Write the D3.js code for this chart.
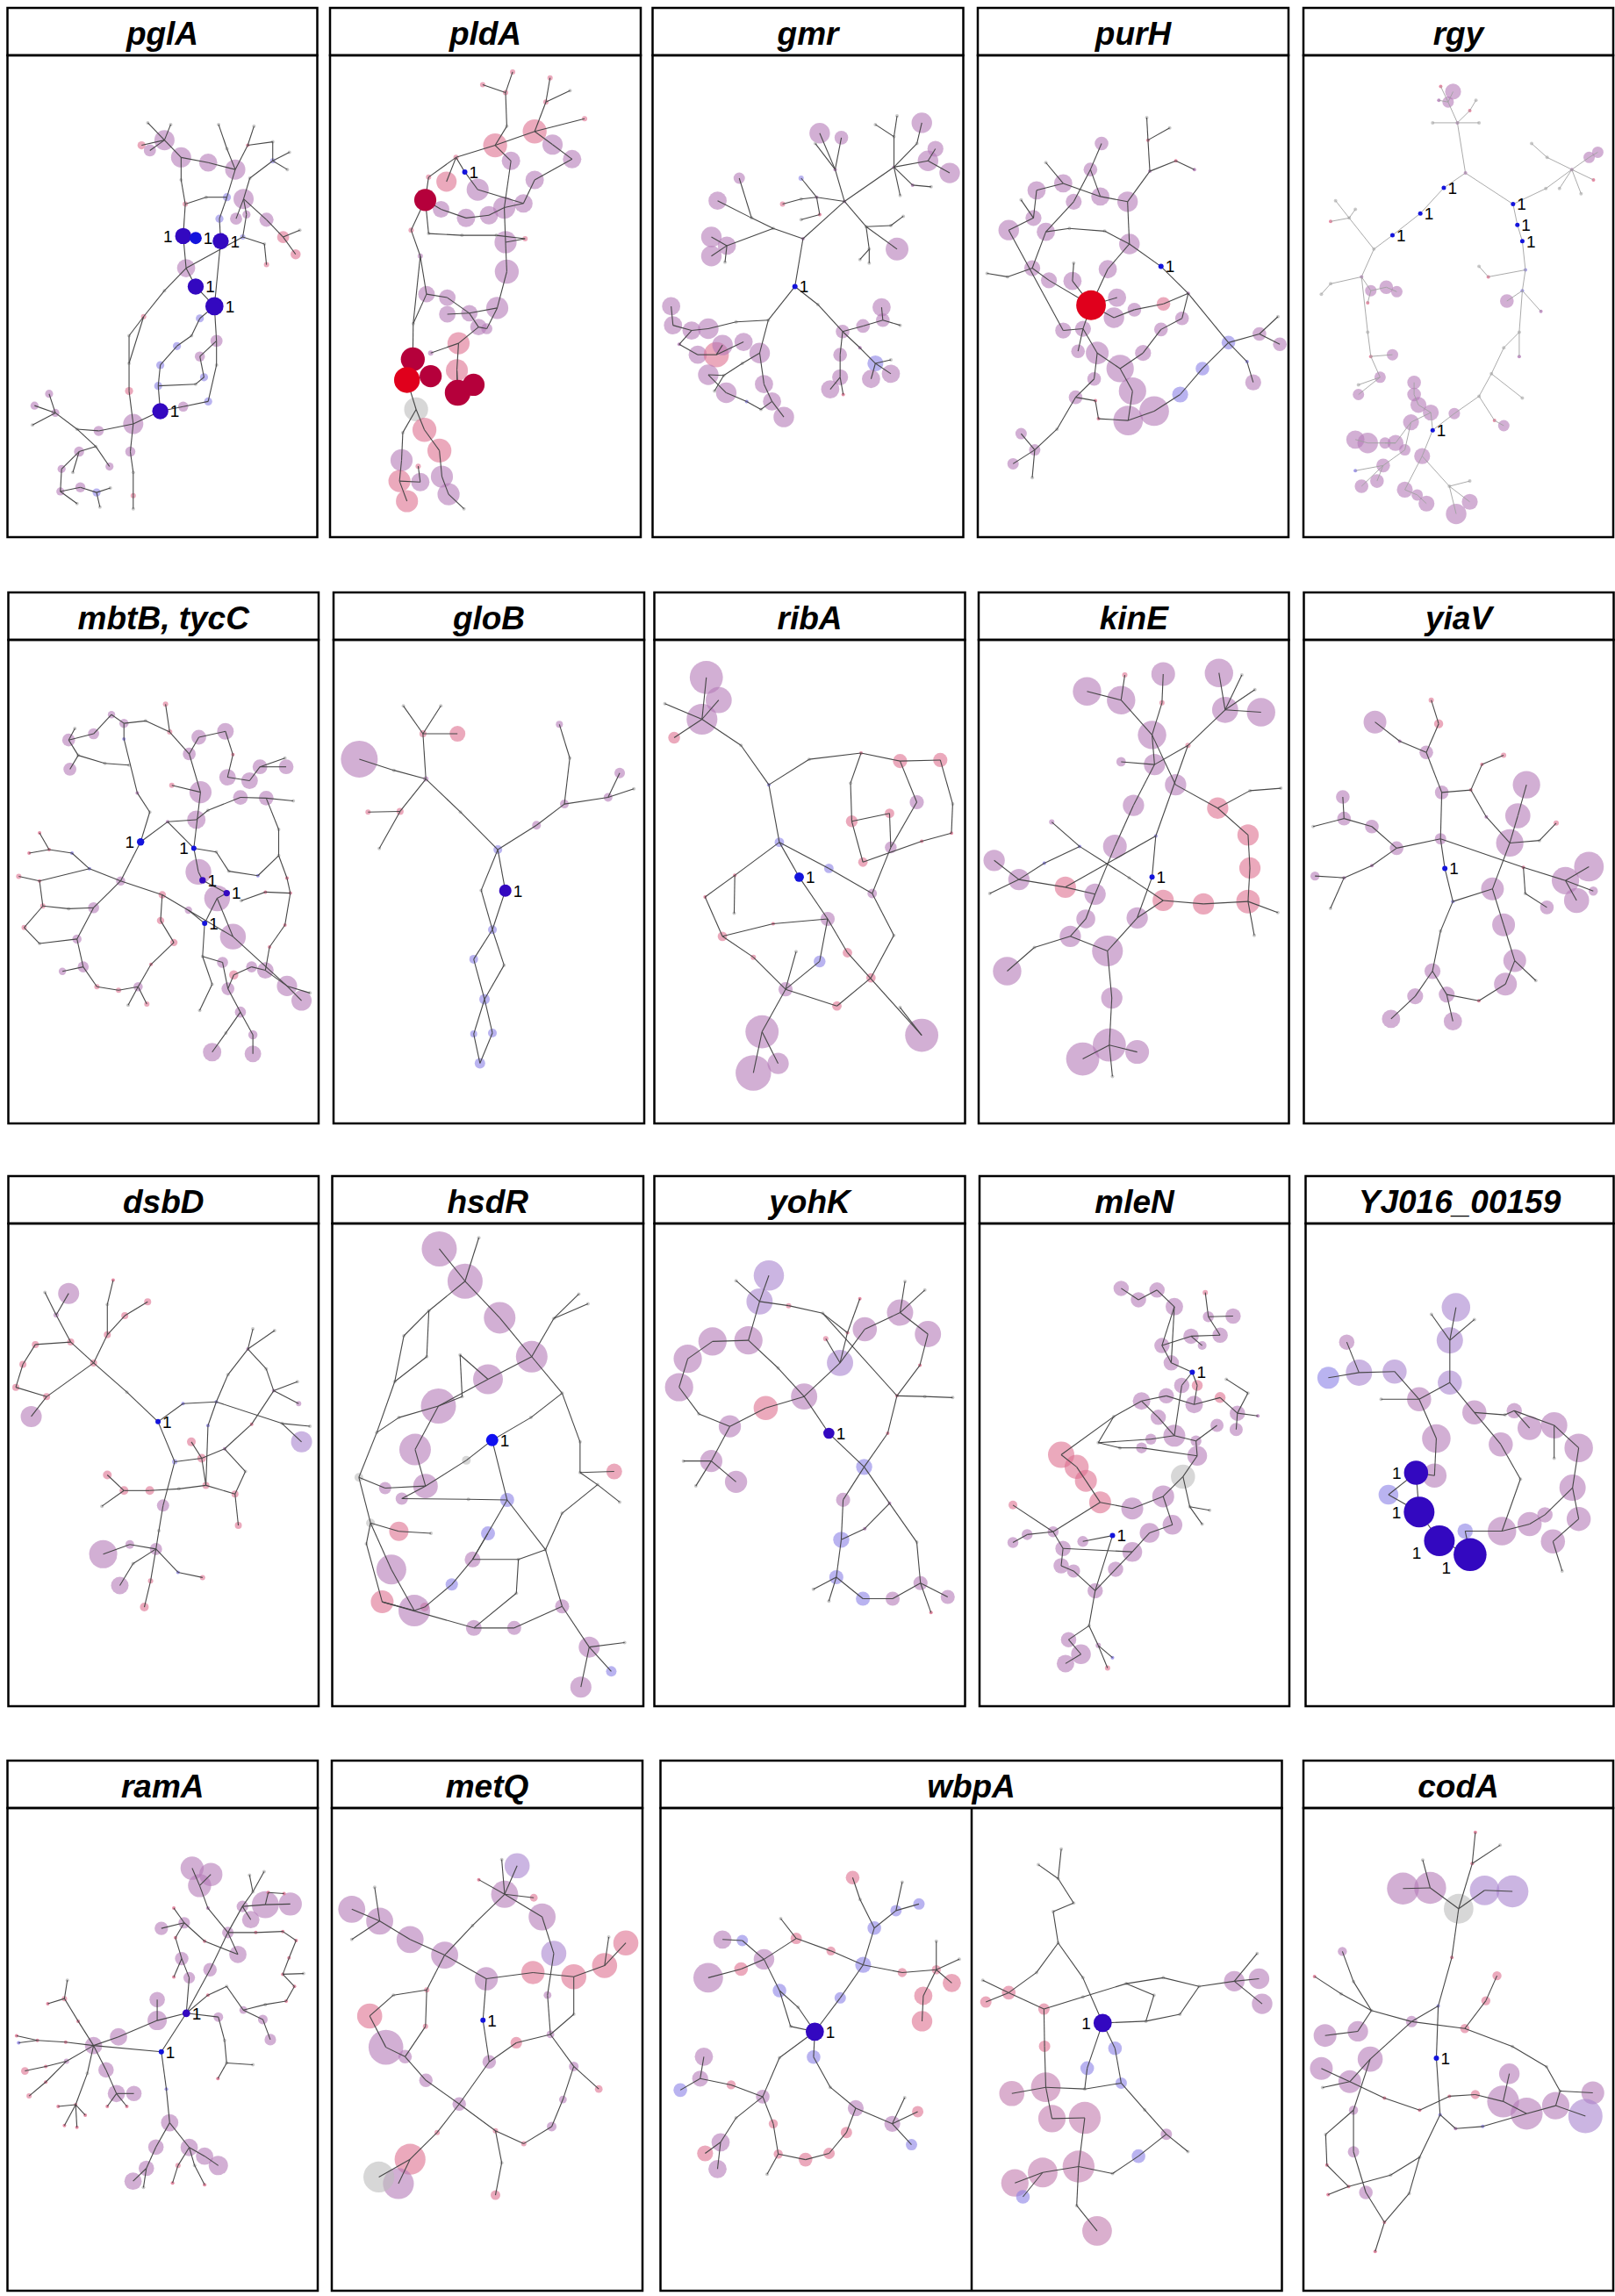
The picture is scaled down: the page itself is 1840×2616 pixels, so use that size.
<!DOCTYPE html>
<html>
<head>
<meta charset="utf-8">
<script src="https://cdn.jsdelivr.net/npm/d3@7"></script>
<style>
  html, body { margin: 0; padding: 0; background: #fff; }
</style>
</head>
<body>
<div id="chart"></div>
<script>
// Node tuples: [x, y, radius(px), colour code, parent index, label side]
// x/y in per-panel coordinates (see dom in panel list)

const pglA_nodes = [
[395,405,10,'p',-1],[355,355,2,'g',0],[410,360,2,'g',0],[340,420,4,'k',0],[360,435,6,'p',0],
[435,455,10,'p',0],[500,470,9,'p',5],[565,490,10,'p',6],[525,360,2,'g',9],[545,430,2,'g',7],
[610,365,2,'g',11],[595,420,2,'k',7],[655,410,2,'g',11],[655,465,3,'b',12],[695,440,2,'g',13],
[690,490,2,'g',13],[600,515,2,'g',13],[585,575,10,'p',16],[545,570,4,'b',7],[495,570,2,'g',18],
[445,590,3,'k',19],[435,520,2,'g',5],[527,632,4,'b',18],[567,632,6,'p',17],[592,620,4,'p',17],
[640,635,7,'p',17],[680,685,6,'k',25],[720,665,2,'g',26],[710,735,5,'k',26],[635,705,2,'g',30],
[583,685,3,'b',24],[640,765,3,'k',29],[440,682,8,'D',20,'l'],[470,688,6,'N',32,'r'],[530,697,8,'D',22,'r'],
[447,775,9,'p',32],[470,828,8,'D',35,'r'],[515,885,9,'D',36,'r'],[395,840,2,'g',35],[345,915,3,'k',38],
[480,920,4,'b',37],[460,970,2,'g',40],[425,1000,4,'b',41],[520,985,6,'p',37],[310,970,2,'g',39],
[310,1050,2,'g',44],[310,1130,4,'k',45],[320,1225,10,'p',46],[385,1055,4,'b',42],[480,1030,5,'p',43],
[520,1055,2,'g',43],[490,1090,4,'b',49],[470,1110,2,'g',51],[500,1160,4,'b',50],[440,1175,5,'p',53],
[380,1115,4,'b',48],[385,1188,8,'D',55,'r'],[237,1245,5,'p',47],[185,1240,2,'g',57],[133,1193,4,'p',58],
[118,1138,4,'p',59],[83,1172,4,'p',59],[78,1228,2,'g',59],[230,1290,2,'g',58],[190,1305,5,'p',63],
[148,1355,4,'p',64],[145,1420,4,'p',65],[193,1408,5,'p',66],[175,1365,2,'g',64],[232,1423,4,'b',67],
[263,1348,4,'p',63],[313,1305,5,'p',47],[320,1365,2,'g',71],[320,1432,3,'k',72],[320,1470,2,'g',73],
[265,1410,2,'g',69],[240,1465,2,'g',69],[185,1455,2,'g',66]
];
const pglA_extra = [[20,21],[30,35],[34,37],[56,54],[56,47],[39,45],[52,55]];

const pldA_nodes = [
[1232,208,3,'k',2],[1160,245,3,'k',2],[1215,268,3,'k',5],[1322,225,3,'k',4],[1312,295,3,'k',7],
[1218,365,2,'g',6],[1190,420,13,'k',-1],[1285,380,13,'k',6],[1370,262,2,'g',4],[1405,343,3,'k',7],
[1328,418,11,'p',7],[1375,460,10,'p',10],[1228,465,10,'p',6],[1285,520,10,'p',11],[1096,455,3,'k',6],
[1117,497,3,'N',14,'r'],[1148,548,12,'p',15],[1073,525,11,'k',14],[1030,512,3,'k',14],[1022,578,12,'C',18],
[1060,605,9,'p',19],[1120,630,10,'p',20],[1175,622,10,'p',21],[1212,600,12,'p',22],[1258,588,10,'p',23],
[1215,700,12,'p',23],[1218,785,13,'p',25],[1195,890,12,'p',26],[1128,905,9,'p',27],[1075,860,9,'p',30],
[1025,850,9,'p',35],[1075,908,9,'p',28],[1150,945,9,'p',28],[1170,950,6,'p',32],[988,665,3,'k',19],
[1010,740,3,'p',34],[1030,675,2,'g',19],[1110,680,2,'g',36],[1193,680,2,'g',37],[1262,690,3,'k',38],
[993,935,2,'g',30],[1102,992,12,'k',32],[1035,1020,3,'p',41],[992,1038,13,'C',40],[1098,1070,12,'k',41],
[978,1098,14,'R',43],[1035,1087,12,'C',45],[1100,1135,14,'C',44],[1138,1112,12,'C',47],[1000,1183,13,'g',45],
[1020,1242,13,'k',49],[1056,1302,13,'k',50],[968,1250,2,'g',49],[965,1330,12,'p',52],[960,1390,12,'k',53],
[1010,1393,10,'p',54],[1062,1377,12,'p',51],[1078,1428,12,'p',56],[978,1448,12,'k',54],[1115,1470,2,'g',57],
[1005,1347,3,'k',55]
];
const pldA_extra = [[13,24],[12,23],[16,24],[27,33],[35,40],[44,47],[25,39],[29,28]];

const gmr_nodes = [
[235,828,3,'N',-1,'r'],[248,690,2,'p',0],[315,582,2,'p',1],[395,483,2,'p',2],[440,355,9,'p',5],
[432,415,2,'g',3],[395,395,2,'g',3],[400,335,2,'g',6],[365,360,2,'g',6],[450,465,9,'p',3],
[462,430,7,'p',9],[485,500,9,'p',9],[425,535,2,'p',3],[455,540,2,'g',12],[405,565,2,'g',3],
[350,655,2,'g',2],[400,720,10,'p',15],[390,652,2,'g',15],[410,625,2,'g',17],[355,720,2,'g',15],
[340,750,2,'g',19],[355,760,2,'g',19],[270,570,2,'p',2],[245,575,2,'g',22],[215,590,3,'k',23],
[275,620,2,'k',22],[245,635,2,'g',25],[300,490,2,'p',2],[275,385,9,'p',27],[310,398,6,'p',27],
[268,415,2,'g',27],[245,515,3,'b',22],[200,660,2,'g',1],[165,630,2,'g',32],[145,515,5,'p',33],
[110,580,8,'p',33],[125,710,8,'p',32],[100,685,9,'p',36],[100,740,9,'p',36],[122,758,2,'g',36],
[192,925,2,'g',0],[140,930,2,'g',40],[95,950,9,'p',41],[68,955,8,'p',42],[38,940,8,'p',43],
[35,885,8,'p',44],[48,995,2,'p',43],[78,1025,8,'p',46],[108,1025,11,'k',47],[118,997,9,'p',48],
[152,988,8,'p',48],[178,1020,9,'p',40],[150,1050,2,'g',51],[120,1085,2,'g',52],[95,1083,9,'p',53],
[185,1110,8,'p',51],[124,1135,9,'p',54],[157,1160,2,'b',56],[198,1160,8,'p',55],[180,1183,2,'g',57],
[217,1205,9,'p',58],[105,1130,2,'g',53],[272,880,2,'g',0],[312,958,6,'p',62],[345,942,6,'p',63],
[375,888,8,'p',66],[377,925,6,'p',64],[405,940,2,'g',66],[308,1025,6,'p',63],[308,1090,7,'p',68],
[292,1125,8,'p',69],[313,1140,2,'k',69],[340,1005,2,'p',63],[365,1050,7,'b',72],[390,1080,8,'p',73],
[358,1095,8,'p',73],[390,1040,2,'g',73]
];
const gmr_extra = [[59,58]];

const purH_nodes = [
[826,770,3,'N',-1,'r'],[775,705,9,'p',0],[772,583,9,'p',1],[808,495,2,'p',2],[805,405,2,'k',3],
[803,340,2,'g',4],[840,370,2,'g',4],[850,465,2,'k',3],[880,490,2,'p',7],[728,568,8,'p',2],
[730,415,6,'p',11],[712,490,6,'p',9],[668,530,8,'p',9],[625,550,8,'p',12],[640,470,2,'g',12],
[685,583,7,'p',11],[640,670,8,'p',15],[620,630,7,'p',13],[580,665,9,'p',17],[600,578,2,'g',17],
[678,660,2,'g',16],[735,668,2,'g',20],[740,778,8,'p',1],[713,882,13,'R',22],[683,812,8,'p',23],
[685,760,2,'g',24],[645,810,7,'p',27],[618,775,7,'p',16],[578,800,2,'g',27],[545,790,2,'g',28],
[755,860,8,'p',23],[750,918,9,'p',23],[783,895,6,'p',31],[830,878,6,'k',34],[870,848,2,'p',0],
[860,920,6,'p',34],[826,952,6,'p',35],[700,950,7,'p',23],[668,955,7,'p',37],[692,1015,6,'p',37],
[723,1020,10,'p',37],[760,1065,12,'p',40],[797,1020,7,'p',36],[935,990,6,'b',34],[985,965,6,'p',43],
[1018,995,6,'p',44],[1015,915,2,'g',44],[965,1045,2,'b',43],[975,1105,7,'p',47],[893,1065,6,'b',43],
[857,1140,7,'b',49],[815,1188,13,'p',50],[780,1130,12,'p',41],[773,1215,13,'p',51],[718,1095,6,'p',40],
[688,1148,6,'p',54],[720,1158,2,'k',55],[725,1210,2,'k',53],[658,1240,2,'g',55],[622,1300,5,'p',58],
[600,1253,5,'p',59],[587,1340,5,'p',59],[618,1380,2,'g',59]
];
const purH_extra = [[26,23],[33,32],[42,41],[52,53],[56,57],[21,1],[38,18]];

const rgy_nodes = [
[1318,500,2,'p',-1],[1305,355,2,'p',0],[1290,295,5,'p',1],[1298,265,7,'p',2],[1278,250,2,'k',2],
[1275,290,2,'p',2],[1265,355,2,'g',1],[1340,355,2,'g',1],[1325,320,2,'k',1],[1335,290,2,'g',8],
[1283,543,2.5,'N',0,'r'],[1245,617,2.5,'N',10,'r'],[1200,680,2.5,'N',11,'r'],[1170,720,2,'g',12],[1395,590,2.5,'N',0,'r'],
[1402,650,2.5,'N',14,'r'],[1410,697,2.5,'N',15,'r'],[1448,545,2,'g',14],[1490,490,2,'p',17],[1518,455,5,'p',18],
[1532,440,5,'p',19],[1525,520,2,'k',18],[1505,560,2,'g',18],[1470,545,2,'g',18],[1450,455,2,'g',18],
[1425,415,2,'g',24],[1150,800,2,'p',13],[1130,630,2,'g',13],[1108,580,2,'g',27],[1140,605,2,'g',27],
[1100,640,2,'k',27],[1100,820,2,'g',26],[1085,850,2,'g',31],[1165,840,5,'p',26],[1190,830,6,'p',33],
[1207,843,5,'p',34],[1160,875,2,'k',33],[1160,960,2,'g',26],[1165,1030,2,'k',37],[1180,1090,5,'p',38],
[1145,1140,5,'p',39],[1145,1112,2,'g',39],[1200,1025,5,'p',38],[1415,780,2,'b',16],[1410,840,2,'b',43],
[1440,900,2,'p',44],[1385,870,6,'p',44],[1355,800,2,'k',43],[1340,770,2,'g',47],[1405,960,2,'g',44],
[1380,1005,2,'g',49],[1405,1030,2,'p',49],[1360,1080,2,'g',50],[1340,1145,2,'g',52],[1300,1195,5,'p',53],
[1265,1243,2.5,'N',54,'r'],[1235,1105,6,'p',57],[1235,1140,6,'p',58],[1242,1170,7,'p',59],[1262,1192,7,'p',55],
[1230,1220,7,'p',59],[1205,1280,7,'p',60],[1160,1280,9,'p',61],[1140,1270,8,'p',62],[1188,1280,5,'p',61],
[1220,1300,5,'p',60],[1248,1318,7,'p',55],[1185,1345,6,'p',65],[1175,1390,6,'p',67],[1150,1405,6,'p',67],
[1220,1415,7,'p',66],[1240,1430,5,'p',70],[1255,1455,7,'p',71],[1292,1405,2,'g',66],[1325,1450,7,'p',73],
[1303,1485,9,'p',73],[1325,1390,2,'g',73],[1365,1215,2,'k',53],[1380,1230,5,'p',77],[1410,1150,2,'g',52],
[1140,1360,2,'b',67]
];
const rgy_extra = [];

const mbtB_nodes = [
[338,746,4,'N',-1,'l'],[403,688,2,'p',0],[472,682,10,'p',1],[500,655,2,'g',2],[578,618,8,'p',3],
[640,620,8,'p',4],[705,628,2,'g',5],[360,660,2,'g',0],[330,605,2,'p',7],[298,450,2,'b',8],
[298,405,5,'p',9],[268,380,4,'p',10],[225,435,6,'p',11],[165,453,7,'p',12],[180,420,2,'g',13],
[188,497,2,'g',13],[168,537,7,'p',15],[252,520,2,'g',15],[350,398,2,'g',10],[408,430,3,'k',18],
[398,350,3,'k',19],[455,493,7,'p',19],[478,445,8,'p',21],[542,428,9,'p',22],[560,495,2,'k',23],
[547,560,9,'p',24],[600,570,9,'p',25],[625,530,8,'p',26],[688,530,8,'p',27],[685,505,2,'g',27],
[482,603,12,'p',21],[413,583,3,'k',30],[310,525,2,'g',17],[466,764,3,'N',1,'l'],[477,832,14,'p',33],
[487,856,3.5,'D',34,'r'],[545,893,3.5,'D',35,'r'],[522,908,14,'p',36],[492,980,3,'N',37,'r'],[453,942,4,'p',38],
[560,1018,14,'p',37],[520,775,2,'g',33],[550,830,2,'g',41],[620,843,2,'b',42],[670,785,2,'g',43],
[670,710,2,'g',5],[690,850,2,'k',44],[698,893,2,'k',46],[638,890,2,'k',47],[580,915,2,'g',48],
[685,985,2,'k',47],[648,1048,2,'k',50],[638,1115,9,'p',51],[290,858,5,'p',0],[215,823,2,'b',53],
[173,778,2,'b',54],[118,768,2,'k',55],[95,720,2,'k',56],[70,778,2,'k',56],[95,858,2,'k',54],
[45,845,3,'k',59],[103,930,3,'k',59],[58,992,3,'k',61],[95,1038,2,'g',62],[185,1025,5,'p',63],
[225,935,6,'p',53],[165,938,2,'g',65],[200,1105,6,'p',64],[150,1118,4,'p',67],[233,1162,3,'k',67],
[285,1172,3,'k',69],[332,1162,5,'p',70],[308,1215,2,'g',71],[353,1212,3,'k',71],[363,1098,2,'k',71],
[418,1035,4,'k',74],[390,898,4,'k',53],[386,972,4,'k',76],[487,1075,2,'g',38],[535,1092,6,'p',78],
[510,1155,2,'g',78],[480,1230,2,'g',80],[548,1168,7,'p',79],[562,1128,5,'k',82],[605,1105,6,'p',83],
[690,1160,11,'p',52],[725,1202,11,'p',85],[745,1180,2,'g',85],[578,1235,6,'p',82],[608,1300,5,'p',88],
[608,1355,9,'p',89],[543,1295,2,'g',88],[510,1350,10,'p',91]
];
const mbtB_extra = [[61,66],[65,64],[75,77],[52,84],[40,85],[30,33],[45,44],[76,40]];

const gloB_nodes = [
[1213,886,7,'D',1,'r'],[1195,768,5,'b',-1],[1022,565,3,'p',3],[1105,660,2,'g',1],[945,540,2,'g',2],
[862,508,21,'p',4],[960,658,4,'k',2],[883,660,3,'k',6],[910,765,2,'g',6],[1015,435,4,'k',2],
[968,355,2,'g',9],[1058,355,2,'g',9],[1098,435,9,'k',9],[1288,698,5,'p',1],[1355,637,5,'p',13],
[1368,505,2,'g',14],[1343,408,4,'p',15],[1460,618,5,'p',14],[1488,548,6,'p',17],[1522,593,2,'g',17],
[1155,885,2,'g',1],[1182,998,5,'b',20],[1137,1083,5,'b',21],[1210,1100,2,'g',21],[1163,1198,6,'b',22],
[1137,1298,4,'b',24],[1182,1295,5,'b',24],[1152,1382,6,'b',25]
];
const gloB_extra = [[0,21],[23,24],[26,27]];

const ribA_nodes = [
[242,848,4,'N',1,'r'],[210,748,4,'b',-1],[193,583,2,'b',1],[148,470,2,'g',2],[85,395,13,'p',3],
[92,275,14,'p',4],[112,340,11,'p',4],[40,448,5,'k',4],[25,350,2,'g',4],[258,510,2,'g',2],
[342,492,2,'k',9],[405,515,6,'k',10],[470,512,6,'k',11],[490,638,2,'g',12],[488,722,2,'k',13],
[440,745,2,'k',14],[432,633,6,'p',11],[390,763,5,'p',16],[345,805,4,'k',20],[325,578,2,'g',10],
[327,688,5,'k',19],[388,665,4,'k',20],[290,823,4,'b',1],[360,895,4,'p',22],[395,1015,2,'g',23],
[358,1137,4,'k',24],[303,1218,4,'k',25],[220,1170,6,'p',26],[138,843,2,'k',1],[288,968,6,'p',0],
[200,982,2,'k',29],[118,1018,4,'k',30],[90,905,2,'k',28],[137,952,2,'g',28],[168,1078,3,'k',31],
[275,1090,5,'b',29],[320,1065,4,'k',29],[237,1062,2,'g',27],[182,1292,14,'p',27],[168,1410,15,'p',38],
[208,1383,9,'p',38],[440,1302,14,'p',36],[405,1222,2,'g',41]
];
const ribA_extra = [[17,23],[15,18],[34,27],[21,17],[32,31],[35,27]];

const kinE_nodes = [
[812,848,3,'N',1,'r'],[818,730,2,'b',10],[812,440,12,'p',-1],[762,340,12,'p',2],[707,315,12,'p',3],
[768,268,3,'k',3],[830,265,10,'p',7],[828,348,3,'k',2],[816,525,9,'p',2],[762,517,4,'p',8],
[870,470,3,'k',8],[930,368,11,'p',10],[920,262,12,'p',11],[988,375,12,'p',11],[957,268,2,'g',11],
[978,310,2,'g',11],[850,583,9,'p',2],[918,650,9,'k',16],[970,600,2,'g',17],[1020,593,2,'g',18],
[967,727,9,'k',17],[970,822,9,'k',20],[967,918,10,'k',21],[895,925,9,'k',22],[830,915,9,'k',23],
[1015,950,2,'g',22],[977,1015,2,'g',22],[782,642,9,'p',8],[752,760,10,'p',27],[720,897,9,'p',28],
[705,968,8,'p',29],[680,1018,9,'p',30],[740,1060,13,'p',31],[622,1050,2,'g',31],[578,1118,12,'p',33],
[747,1195,9,'p',32],[743,1330,14,'p',35],[700,1370,14,'p',36],[788,1350,10,'p',36],[748,1420,2,'g',36],
[788,965,9,'p',24],[695,760,2,'b',43],[650,690,3,'p',41],[775,850,2,'g',24],[672,877,9,'k',29],
[597,855,9,'p',44],[557,800,9,'p',45],[550,895,2,'g',45],[638,808,2,'b',45]
];
const kinE_extra = [[0,40],[40,32],[48,41],[1,44]];

const yiaV_nodes = [
[1285,823,3,'N',1,'r'],[1278,738,5,'p',2],[1280,605,6,'p',3],[1255,490,6,'p',4],[1275,408,4,'k',5],
[1263,340,3,'k',-1],[1212,458,2,'p',3],[1172,403,10,'p',6],[1327,598,2,'k',2],[1345,525,2,'k',8],
[1380,498,3,'k',9],[1352,675,2,'p',8],[1390,750,12,'p',11],[1403,672,11,'p',12],[1417,583,12,'p',13],
[1438,743,2,'g',12],[1465,693,3,'k',15],[1207,765,6,'p',1],[1167,703,6,'p',17],[1122,680,6,'p',18],
[1120,618,6,'p',19],[1072,703,2,'g',19],[1167,815,2,'p',17],[1122,850,2,'p',22],[1075,845,4,'p',23],
[1100,938,2,'g',23],[1412,820,2,'k',1],[1480,858,12,'p',26],[1518,818,13,'p',27],[1498,915,11,'p',27],
[1525,888,4,'p',27],[1415,895,2,'g',26],[1450,935,6,'p',31],[1298,918,2,'b',0],[1362,882,10,'p',33],
[1380,985,10,'p',34],[1398,1088,10,'p',35],[1383,1155,10,'p',36],[1432,1145,2,'g',36],[1340,1203,2,'k',37],
[1288,1185,7,'p',39],[1298,1262,8,'p',40],[1278,1003,2,'g',33],[1265,1118,7,'p',42],[1237,1190,7,'p',43],
[1198,1255,8,'p',44]
];
const yiaV_extra = [[12,34],[43,40]];

const dsbD_nodes = [
[380,737,3,'N',1,'r'],[305,652,2,'g',2],[225,568,4,'k',-1],[170,508,4,'k',2],[135,430,3,'p',3],
[165,368,12,'p',4],[108,365,2,'g',4],[85,515,4,'k',3],[55,572,4,'k',7],[38,638,4,'k',8],
[112,665,4,'k',9],[75,722,12,'p',10],[258,487,4,'k',2],[258,400,2,'g',12],[272,330,2,'k',13],
[300,432,4,'k',12],[355,392,4,'k',15],[440,685,2,'b',0],[520,680,2,'b',17],[500,748,2,'b',18],
[548,602,2,'g',18],[596,528,2,'p',20],[608,470,2,'g',21],[660,475,2,'g',21],[640,585,2,'g',21],
[658,648,2,'p',24],[715,622,2,'g',25],[718,685,3,'p',25],[605,744,2,'k',25],[540,815,2,'p',28],
[678,742,2,'g',18],[725,795,12,'v',30],[745,750,2,'g',30],[420,852,3,'b',0],[485,842,5,'k',33],
[460,795,5,'k',34],[495,920,4,'k',34],[565,945,4,'k',36],[590,880,2,'g',37],[573,1035,4,'k',37],
[430,930,2,'g',36],[360,935,5,'k',40],[298,935,5,'k',41],[258,890,5,'k',42],[245,980,2,'g',42],
[392,978,7,'p',33],[382,1050,2,'g',45],[375,1103,7,'p',46],[312,1090,5,'p',47],[248,1118,16,'p',48],
[320,1145,2,'g',47],[288,1208,10,'p',50],[362,1195,3,'k',47],[347,1270,5,'k',52],[428,1170,2,'b',47],
[487,1185,3,'k',54]
];
const dsbD_extra = [[10,2],[34,29],[38,29],[19,36]];

const hsdR_nodes = [
[1182,790,7,'B',27,'r'],[1055,240,20,'p',2],[1117,333,20,'p',-1],[1150,208,2,'g',2],[1200,438,18,'p',2],
[1277,550,18,'p',4],[1330,440,2,'g',5],[1390,370,2,'g',6],[1412,398,2,'g',6],[1172,615,17,'p',5],
[1105,545,2,'g',9],[1053,692,20,'p',9],[1030,418,2,'g',2],[970,490,2,'g',12],[1025,550,2,'g',12],
[948,622,2,'g',14],[1110,665,2,'g',10],[958,725,2,'g',11],[905,768,2,'g',17],[997,817,18,'p',11],
[1022,922,14,'p',19],[925,928,7,'p',20],[862,897,5,'g',21],[965,958,7,'p',20],[1125,960,2,'g',23],
[1218,962,8,'b',24],[1350,655,2,'g',5],[1275,725,2,'g',26],[1120,848,5,'g',0],[1393,795,2,'g',26],
[1393,883,2,'g',29],[1475,880,9,'k',30],[1435,918,2,'g',30],[1488,968,2,'g',32],[1350,1000,2,'g',32],
[1310,1105,2,'g',34],[1245,1133,2,'g',35],[1240,1230,2,'g',36],[1138,1330,9,'p',37],[1235,1330,8,'p',38],
[1350,1268,8,'p',39],[1415,1385,12,'p',40],[1500,1372,2,'g',41],[1468,1455,6,'b',41],[1395,1500,12,'p',41],
[1135,1133,9,'p',25],[1172,1058,8,'b',45],[1085,1205,7,'b',45],[1020,1270,5,'k',47],[995,1280,18,'p',48],
[918,1255,13,'k',49],[940,1162,17,'p',52],[890,1028,5,'g',22],[958,1052,11,'k',52],[1035,1058,2,'g',53],
[880,1088,2,'g',52]
];
const hsdR_extra = [[0,25],[28,20],[16,11],[15,18],[13,15],[36,45],[50,38],[55,50],[25,35],[18,22],[51,49],[40,35]];

const yohK_nodes = [
[290,768,5.5,'D',1,'r'],[250,662,13,'p',46],[188,695,12,'k',1],[130,748,11,'p',2],[80,712,2,'g',3],
[48,635,14,'p',4],[62,553,14,'p',5],[102,503,14,'p',6],[160,500,14,'p',7],[178,388,13,'v',8],
[193,313,15,'v',9],[140,328,2,'g',9],[225,400,3,'k',9],[280,422,2,'g',12],[320,478,2,'k',13],
[308,565,13,'v',14],[285,495,3,'k',15],[348,468,12,'p',15],[405,420,13,'p',17],[450,482,13,'p',18],
[413,330,2,'g',18],[445,355,2,'g',18],[340,380,2,'k',14],[400,660,2,'k',13],[437,572,2,'k',19],
[445,662,2,'g',23],[490,665,2,'g',25],[385,768,2,'k',23],[347,865,8,'b',27],[313,960,7,'p',28],
[388,970,2,'p',28],[348,1043,2,'p',30],[310,1075,8,'b',29],[302,1183,7,'b',32],[345,1245,7,'b',33],
[393,1245,7,'p',34],[438,1200,7,'p',35],[432,1082,2,'g',30],[482,1240,7,'p',36],[455,1285,2,'k',36],
[265,1218,2,'g',33],[290,1252,2,'g',33],[100,848,11,'p',3],[140,908,11,'p',42],[75,920,2,'g',42],
[55,848,2,'g',42],[208,580,2,'g',8]
];
const yohK_extra = [[23,24],[0,28],[31,32],[37,36],[1,15]];

const mleN_nodes = [
[877,592,3,'N',1,'r'],[843,565,7,'p',2],[828,515,7,'p',3],[875,488,7,'p',-1],[893,515,4,'p',3],
[922,485,7,'p',3],[903,432,5,'p',5],[943,430,7,'p',6],[898,362,3,'k',6],[848,403,8,'p',2],
[820,355,7,'p',9],[790,383,7,'p',10],[762,350,7,'p',11],[860,630,7,'p',0],[885,630,5,'k',0],
[880,685,8,'p',14],[922,665,5,'k',15],[950,710,7,'p',16],[948,757,6,'p',17],[983,718,2,'p',17],
[967,652,2,'g',17],[932,612,2,'g',20],[835,660,7,'p',15],[795,675,8,'p',22],[822,722,7,'p',23],
[848,775,10,'p',24],[810,785,5,'p',25],[883,790,5,'p',25],[917,745,6,'p',27],[885,833,9,'p',27],
[862,893,11,'g',29],[830,950,10,'p',30],[780,985,10,'p',31],[728,967,10,'k',32],[705,905,10,'k',33],
[690,865,11,'k',34],[665,830,12,'k',35],[873,980,2,'g',30],[905,990,2,'g',37],[893,1030,2,'g',37],
[845,1032,9,'p',31],[808,1055,9,'p',40],[780,1110,9,'p',41],[753,1160,7,'p',42],[720,1222,7,'p',43],
[748,1063,3,'N',44,'r'],[700,1080,5,'p',45],[685,1165,6,'p',44],[665,1150,7,'p',47],[668,1100,7,'p',48],
[652,1052,5,'p',49],[610,1060,5,'p',50],[587,1083,5,'p',51],[587,975,4,'k',50],[710,1323,2,'g',44],
[677,1363,7,'p',54],[697,1405,9,'p',55],[672,1432,8,'p',56],[725,1380,3,'p',54],[740,1445,3,'k',58],
[748,1415,2,'b',58],[750,720,2,'g',23],[725,795,2,'g',61],[760,810,2,'g',62],[795,810,5,'p',63]
];
const mleN_extra = [[42,49],[36,61],[64,29],[26,62],[33,50],[13,25],[1,9]];

const yj_nodes = [
[1240,882,11,'D',5,'l'],[1245,995,14,'D',0,'l'],[1278,1078,14,'D',1,'bl'],[1328,1118,15,'D',2,'bl'],[1195,945,9,'b',1],
[1270,890,11,'p',6],[1273,783,13,'p',7],[1245,670,11,'p',8],[1205,590,11,'v',-1],[1147,593,12,'v',8],
[1097,608,10,'b',9],[1127,505,7,'p',9],[1183,670,2,'g',7],[1295,622,11,'v',7],[1295,500,12,'v',13],
[1305,405,13,'v',14],[1265,425,2,'g',14],[1335,440,2,'g',14],[1335,708,11,'p',13],[1385,715,2,'g',18],
[1400,703,7,'p',19],[1425,753,11,'p',20],[1465,745,12,'p',20],[1378,800,11,'p',18],[1505,810,13,'p',22],
[1495,925,12,'p',24],[1505,1015,11,'p',25],[1463,1080,11,'p',26],[1450,1003,7,'p',25],[1425,1030,11,'p',28],
[1380,1050,13,'p',29],[1320,1050,7,'b',30],[1410,900,2,'g',23],[1478,1165,2,'g',27],[1465,840,2,'g',22]
];
const yj_extra = [[3,31],[32,30],[0,4]];

const ramA_nodes = [
[448,757,4,'D',-1,'r'],[388,868,3,'N',0,'r'],[400,975,2,'b',1],[408,1072,9,'p',2],[375,1142,8,'p',3],
[352,1203,8,'p',4],[320,1240,9,'p',5],[345,1258,2,'g',5],[455,1143,9,'p',3],[492,1168,9,'p',8],
[525,1195,10,'p',9],[428,1195,3,'k',8],[415,1245,2,'k',11],[468,1195,2,'g',8],[492,1250,2,'k',13],
[378,778,10,'p',0],[378,718,8,'p',15],[285,825,9,'p',15],[225,850,9,'p',17],[160,895,3,'p',18],
[110,910,2,'k',19],[60,923,4,'k',20],[110,955,2,'k',19],[70,995,3,'k',22],[158,840,2,'k',18],
[90,835,2,'k',24],[45,842,2,'b',25],[40,822,2,'k',25],[188,780,2,'k',18],[155,715,3,'k',28],
[162,662,2,'g',29],[115,730,2,'k',29],[255,920,8,'p',18],[280,988,9,'p',32],[322,988,8,'p',33],
[210,930,2,'g',18],[182,1020,2,'k',35],[155,1080,2,'k',36],[185,1085,2,'k',36],[205,1050,2,'k',36],
[140,1025,2,'k',36],[258,1025,2,'k',33],[305,1025,2,'k',33],[500,705,2,'k',0],[545,680,2,'g',43],
[585,748,4,'p',44],[632,775,5,'p',45],[650,833,6,'p',46],[525,768,5,'p',0],[638,732,2,'g',45],
[688,722,2,'k',49],[708,680,2,'k',50],[680,645,2,'k',51],[730,643,2,'g',52],[695,598,2,'k',52],
[712,548,2,'k',54],[680,522,2,'k',55],[615,525,2,'k',56],[548,525,6,'p',57],[572,588,9,'p',58],
[505,632,7,'p',0],[583,450,6,'p',58],[603,488,9,'p',61],[638,445,14,'p',61],[698,443,12,'p',63],
[645,410,2,'k',63],[683,413,2,'k',65],[608,408,2,'g',61],[635,350,2,'g',67],[600,360,2,'g',67],
[500,455,2,'p',58],[480,390,12,'p',70],[462,340,12,'p',71],[507,358,12,'p',71],[455,655,6,'p',0],
[437,600,7,'p',74],[422,540,2,'k',75],[443,497,6,'p',76],[418,455,2,'k',77],[388,513,7,'p',77],
[492,550,2,'k',77],[418,653,2,'k',75],[540,835,2,'g',48],[545,900,2,'g',82],[524,945,2,'k',83],
[608,905,2,'g',83]
];
const ramA_extra = [[1,18],[60,58],[80,59]];

const metQ_nodes = [
[1160,777,3,'N',1,'r'],[1168,658,12,'p',2],[1068,590,14,'p',45],[985,545,14,'p',2],[912,492,14,'p',3],
[845,458,14,'p',4],[900,395,2,'g',4],[845,545,2,'g',4],[1280,640,12,'k',1],[1378,652,13,'k',8],
[1452,620,13,'k',9],[1503,555,13,'k',10],[1462,538,2,'g',10],[1378,760,2,'g',9],[1322,818,4,'p',13],
[1240,842,6,'k',14],[1175,897,7,'p',15],[1103,1018,7,'p',16],[1023,950,7,'p',17],[973,882,7,'p',18],
[927,855,18,'p',19],[888,765,13,'k',20],[945,705,2,'g',21],[1025,690,3,'k',22],[1022,795,3,'k',23],
[1050,1100,3,'k',17],[985,1177,16,'k',25],[957,1247,16,'p',26],[910,1228,16,'g',26],[1190,1095,3,'k',17],
[1205,1187,2,'g',29],[1190,1280,5,'k',30],[1258,1132,3,'k',29],[1325,1083,5,'p',32],[1352,1005,4,'p',33],
[1378,910,5,'p',34],[1438,975,4,'k',35],[1315,705,4,'p',14],[1330,585,13,'v',37],[1302,480,14,'p',38],
[1212,415,14,'p',39],[1242,333,13,'v',40],[1205,315,2,'g',40],[1150,373,2,'k',40],[1282,425,4,'k',40],
[1135,505,2,'g',40]
];
const metQ_extra = [[0,16],[24,19],[23,2],[14,35]];

const wbpL_nodes = [
[267,810,8,'D',1,'r'],[240,740,2,'g',2],[210,692,6,'b',3],[185,602,9,'p',-1],[150,548,5,'b',3],
[118,545,8,'p',4],[148,630,6,'k',3],[95,655,13,'p',6],[237,542,5,'k',3],[212,485,2,'g',8],
[293,578,4,'k',8],[345,618,7,'b',10],[363,512,6,'b',11],[398,462,5,'b',12],[435,443,5,'b',13],
[408,380,2,'g',13],[340,430,2,'g',12],[328,367,6,'k',16],[408,640,4,'k',11],[463,632,4,'k',18],
[463,550,2,'g',19],[500,602,2,'g',19],[488,670,8,'k',19],[442,707,8,'k',19],[440,780,9,'k',23],
[308,713,5,'b',11],[265,883,6,'b',0],[228,795,2,'g',0],[210,885,2,'g',0],[183,997,6,'p',28],
[132,963,4,'k',29],[82,945,7,'p',30],[88,882,8,'p',31],[50,978,6,'b',31],[140,1058,2,'g',29],
[115,1128,8,'p',34],[90,1160,7,'k',35],[110,1205,8,'p',35],[200,1075,4,'k',29],[208,1162,4,'k',38],
[190,1220,2,'g',39],[252,1178,6,'k',39],[290,1160,5,'k',41],[318,1100,5,'k',42],[333,1030,7,'p',43],
[292,970,2,'g',26],[392,1075,7,'p',44],[412,1000,2,'g',46],[433,1040,5,'k',46],[423,1135,5,'b',46]
];
const wbpL_extra = [[25,0],[44,45],[27,2]];

const wbpR_nodes = [
[732,785,8,'D',1,'l'],[802,780,2,'g',2],[857,760,2,'g',3],[888,680,2,'g',-1],[830,655,2,'g',3],
[770,672,2,'g',4],[815,705,2,'g',5],[945,665,9,'p',3],[985,658,9,'p',7],[990,730,9,'p',7],
[982,585,2,'g',7],[700,710,2,'g',5],[637,745,5,'k',11],[580,698,6,'k',12],[543,725,5,'k',13],
[538,662,2,'g',13],[625,640,2,'g',13],[660,555,2,'g',16],[652,465,2,'g',17],[685,440,2,'g',18],
[660,370,2,'g',19],[628,330,2,'g',20],[665,285,2,'g',20],[700,655,2,'g',17],[752,858,6,'b',0],
[762,958,5,'b',24],[707,915,6,'b',0],[703,975,2,'g',26],[640,970,13,'m',27],[585,988,11,'m',28],
[650,1060,12,'m',28],[703,1058,14,'m',30],[638,852,5,'k',12],[800,1035,2,'g',25],[835,1105,5,'p',33],
[870,1155,2,'g',34],[790,1168,6,'b',34],[748,1218,2,'g',36],[693,1198,14,'m',37],[635,1215,13,'m',38],
[590,1245,12,'m',39],[603,1285,6,'b',39],[690,1310,2,'g',38],[723,1383,13,'m',42]
];
const wbpR_extra = [[6,1],[23,0],[25,27],[31,38],[32,28]];

const codA_nodes = [
[1272,885,3,'N',1,'r'],[1275,735,2,'b',2],[1297,595,2,'k',3],[1308,455,13,'g',-1],[1262,395,14,'p',3],
[1218,397,14,'p',4],[1250,315,2,'g',4],[1350,402,13,'v',3],[1395,405,14,'v',7],[1330,325,2,'k',3],
[1335,235,2,'k',9],[1375,272,2,'g',9],[1318,800,4,'k',13],[1232,780,5,'p',1],[1352,720,4,'k',12],
[1370,648,4,'k',14],[1395,852,2,'g',12],[1450,910,2,'g',16],[1472,980,2,'g',17],[1465,1022,12,'p',18],
[1418,1045,14,'p',19],[1380,1010,14,'p',20],[1525,985,10,'p',18],[1513,1052,15,'v',19],[1390,930,9,'p',21],
[1335,990,4,'k',21],[1293,995,2,'k',25],[1245,1035,2,'k',26],[1278,1048,2,'b',0],[1303,1088,2,'p',28],
[1347,1082,2,'b',29],[1167,748,2,'g',13],[1138,665,2,'g',31],[1120,578,4,'p',32],[1118,700,2,'g',31],
[1075,650,2,'k',34],[1145,808,9,'p',31],[1092,820,10,'p',36],[1165,888,11,'p',13],[1132,953,10,'p',38],
[1086,915,10,'p',39],[1088,970,2,'g',39],[1188,1000,2,'k',39],[1138,1035,4,'p',38],[1138,1155,5,'p',43],
[1158,1272,6,'p',44],[1188,1358,2,'k',45],[1173,1442,2,'k',46],[1245,1170,2,'g',28],[1198,1222,2,'g',48],
[1130,1255,2,'k',49],[1097,1278,2,'k',50],[1095,1193,2,'k',50],[1093,1105,2,'g',52],[1228,1275,2,'g',48]
];
const codA_extra = [[30,20],[54,46],[42,27],[53,43]];

// ---- layout ----
const W = 1840, H = 2616;
const TITLE_H = 54;
const ROWS = [
  {top: 9, bottom: 612},
  {top: 675, bottom: 1280},
  {top: 1340, bottom: 1944},
  {top: 2006, bottom: 2610}
];

// dom = [x0, x1, y0, y1] of the panel body in reading coordinates; rk = node size factor
const panels = [
  {title: 'pglA', row: 0, x0: 8.5, x1: 361.5, nets: [{nodes: pglA_nodes, extra: pglA_extra, dom: [18, 762, 160, 1552], rk: 1.15}]},
  {title: 'pldA', row: 0, x0: 376, x1: 730, nets: [{nodes: pldA_nodes, extra: pldA_extra, dom: [793, 1540, 160, 1552], rk: 1.05}]},
  {title: 'gmr', row: 0, x0: 743.5, x1: 1097.5, nets: [{nodes: gmr_nodes, extra: gmr_extra, dom: [5, 507, 160, 1552], rk: 1.3}]},
  {title: 'purH', row: 0, x0: 1114, x1: 1468, nets: [{nodes: purH_nodes, extra: purH_extra, dom: [530, 1032, 160, 1552], rk: 1.3}]},
  {title: 'rgy', row: 0, x0: 1485, x1: 1838, nets: [{nodes: rgy_nodes, extra: rgy_extra, dom: [1056, 1557, 160, 1552], rk: 1.3, light: true}]},
  {title: 'mbtB, tycC', row: 1, x0: 9.5, x1: 363, nets: [{nodes: mbtB_nodes, extra: mbtB_extra, dom: [20, 766, 165, 1555], rk: 1.05}]},
  {title: 'gloB', row: 1, x0: 380, x1: 734, nets: [{nodes: gloB_nodes, extra: gloB_extra, dom: [800, 1547, 165, 1555], rk: 1.0}]},
  {title: 'ribA', row: 1, x0: 745.5, x1: 1099.5, nets: [{nodes: ribA_nodes, extra: ribA_extra, dom: [8, 510, 167, 1555], rk: 1.35}]},
  {title: 'kinE', row: 1, x0: 1115, x1: 1468.5, nets: [{nodes: kinE_nodes, extra: kinE_extra, dom: [532, 1033, 167, 1555], rk: 1.35}]},
  {title: 'yiaV', row: 1, x0: 1485.5, x1: 1838.5, nets: [{nodes: yiaV_nodes, extra: yiaV_extra, dom: [1057, 1558, 167, 1555], rk: 1.3}]},
  {title: 'dsbD', row: 2, x0: 9.5, x1: 363, nets: [{nodes: dsbD_nodes, extra: dsbD_extra, dom: [20, 766, 167, 1555], rk: 1.0}]},
  {title: 'hsdR', row: 2, x0: 378.5, x1: 733, nets: [{nodes: hsdR_nodes, extra: hsdR_extra, dom: [798, 1545, 167, 1555], rk: 1.0}]},
  {title: 'yohK', row: 2, x0: 745.5, x1: 1099.5, nets: [{nodes: yohK_nodes, extra: yohK_extra, dom: [8, 510, 163, 1555], rk: 1.15}]},
  {title: 'mleN', row: 2, x0: 1116, x1: 1469, nets: [{nodes: mleN_nodes, extra: mleN_extra, dom: [533, 1034, 163, 1555], rk: 1.25}]},
  {title: 'YJ016_00159', row: 2, x0: 1487.5, x1: 1838.5, nets: [{nodes: yj_nodes, extra: yj_extra, dom: [1060, 1562, 163, 1555], rk: 1.25}]},
  {title: 'ramA', row: 3, x0: 8.5, x1: 362, nets: [{nodes: ramA_nodes, extra: ramA_extra, dom: [18, 764, 167, 1555], rk: 1.1}]},
  {title: 'metQ', row: 3, x0: 378, x1: 732, nets: [{nodes: metQ_nodes, extra: metQ_extra, dom: [797, 1543, 167, 1555], rk: 1.1}]},
  {title: 'wbpA', row: 3, x0: 752.5, x1: 1460.5, divider: 1107, nets: [
    {nodes: wbpL_nodes, extra: wbpL_extra, dom: [18, 520, 167, 1555], px: [752.5, 1107], rk: 1.3},
    {nodes: wbpR_nodes, extra: wbpR_extra, dom: [520, 1022, 167, 1555], px: [1107, 1460.5], rk: 1.3}
  ]},
  {title: 'codA', row: 3, x0: 1485, x1: 1838, nets: [{nodes: codA_nodes, extra: codA_extra, dom: [1057, 1558, 165, 1555], rk: 1.3}]}
];

const FILL = {
  p: '#b47ab8', k: '#de6f8f', b: '#8a80e6', v: '#a883cf', m: '#c27aae', g: '#bdbdbd',
  D: '#3308c0', N: '#1414dc', B: '#1010f0', R: '#e0001c', C: '#b5003b'
};
const SOLID = new Set(['D', 'N', 'B', 'R', 'C']);

const svg = d3.select('#chart').append('svg')
  .attr('width', W).attr('height', H)
  .style('display', 'block');
svg.append('rect').attr('width', W).attr('height', H).attr('fill', '#fff');

panels.forEach(pan => {
  const row = ROWS[pan.row];
  const bodyTop = row.top + TITLE_H;
  const g = svg.append('g');

  pan.nets.forEach(net => {
    const px = net.px || [pan.x0, pan.x1];
    const x = d3.scaleLinear().domain([net.dom[0], net.dom[1]]).range(px);
    const y = d3.scaleLinear().domain([net.dom[2], net.dom[3]]).range([bodyTop, row.bottom]);
    // tiny dots keep their size, real nodes get the panel factor
    const rs = d3.scaleLinear().domain([0, 20]).range([0, 20 * net.rk]);
    const rad = d => d[2] <= 3 ? d[2] : rs(d[2]);
    const nodes = net.nodes;
    const links = nodes.map((n, i) => [i, n[4]]).filter(l => l[1] >= 0).concat(net.extra);

    // translucent nodes under the edges
    g.append('g').selectAll('circle')
      .data(nodes.filter(n => !SOLID.has(n[3])))
      .join('circle')
      .attr('cx', d => x(d[0]))
      .attr('cy', d => y(d[1]))
      .attr('r', rad)
      .attr('fill', d => FILL[d[3]])
      .attr('fill-opacity', d => d[2] <= 2.5 ? 0.8 : 0.6);

    g.append('g').selectAll('line')
      .data(links)
      .join('line')
      .attr('x1', d => x(nodes[d[0]][0]))
      .attr('y1', d => y(nodes[d[0]][1]))
      .attr('x2', d => x(nodes[d[1]][0]))
      .attr('y2', d => y(nodes[d[1]][1]))
      .attr('stroke', net.light ? '#a0a0a0' : '#474747')
      .attr('stroke-width', net.light ? 0.9 : 1.1);

    g.append('g').selectAll('circle')
      .data(nodes.filter(n => SOLID.has(n[3])))
      .join('circle')
      .attr('cx', d => x(d[0]))
      .attr('cy', d => y(d[1]))
      .attr('r', rad)
      .attr('fill', d => FILL[d[3]]);

    // "1" labels
    g.append('g').selectAll('text')
      .data(nodes.filter(n => n[5]))
      .join('text')
      .attr('x', d => d[5] === 'r' ? x(d[0]) + rad(d) + 2 : x(d[0]) - rad(d) - 3)
      .attr('y', d => d[5] === 'bl' ? y(d[1]) + rad(d) * 0.8 : y(d[1]))
      .attr('dy', '0.36em')
      .attr('text-anchor', d => d[5] === 'r' ? 'start' : 'end')
      .attr('font-family', '"Liberation Sans", Arial, sans-serif')
      .attr('font-size', 19)
      .attr('fill', '#000')
      .text('1');
  });

  // frames
  g.append('rect')
    .attr('x', pan.x0).attr('y', row.top)
    .attr('width', pan.x1 - pan.x0).attr('height', TITLE_H)
    .attr('fill', 'none').attr('stroke', '#000').attr('stroke-width', 2.5);
  g.append('rect')
    .attr('x', pan.x0).attr('y', bodyTop)
    .attr('width', pan.x1 - pan.x0).attr('height', row.bottom - bodyTop)
    .attr('fill', 'none').attr('stroke', '#000').attr('stroke-width', 2.5);
  if (pan.divider) {
    g.append('line')
      .attr('x1', pan.divider).attr('x2', pan.divider)
      .attr('y1', bodyTop).attr('y2', row.bottom)
      .attr('stroke', '#000').attr('stroke-width', 2.5);
  }

  g.append('text')
    .attr('x', (pan.x0 + pan.x1) / 2)
    .attr('y', row.top + 42)
    .attr('text-anchor', 'middle')
    .attr('font-family', '"Liberation Sans", Arial, sans-serif')
    .attr('font-weight', 'bold')
    .attr('font-style', 'italic')
    .attr('font-size', 37)
    .attr('fill', '#000')
    .text(pan.title);
});
</script>
</body>
</html>
